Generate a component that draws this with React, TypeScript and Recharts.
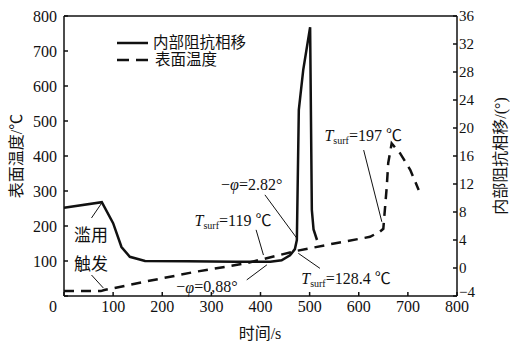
import React from 'react';
import {
  LineChart,
  Line,
  XAxis,
  YAxis,
  ReferenceLine,
  ReferenceDot
} from 'recharts';

// 内部阻抗相移 (right axis, °)
const phaseTime = [0, 77, 100, 117, 134, 165, 250, 350, 420, 443, 460, 470, 474, 478, 487, 501, 504.5, 508, 515];
const phaseValue = [8.6, 9.4, 6.4, 3.0, 1.6, 1.0, 0.95, 0.9, 0.9, 1.1, 1.8, 2.7, 4.0, 22.6, 28.3, 34.4, 8.3, 5.5, 4.0];

// 表面温度 (left axis, ℃)
const tempTime = [0, 75, 82, 165, 267, 369, 430, 470, 550, 623, 643, 650, 657, 660, 667, 684, 705, 722];
const tempValue = [14, 14, 17, 41, 69, 93, 114, 128, 150, 169, 184, 192, 312, 380, 436, 408, 360, 303];

const xTicks = [0, 100, 200, 300, 400, 500, 600, 700, 800];
const leftTicks = [0, 100, 200, 300, 400, 500, 600, 700, 800];
const rightTicks = [-4, 0, 4, 8, 12, 16, 20, 24, 28, 32, 36];

// leader lines, in (time, ℃) coordinates
const leaders = [
  [[56, 223], [77, 266]],
  [[56, 60], [80, 23]],
  [[372, 46], [413, 89]],
  [[391, 189], [406, 117]],
  [[409, 289], [474, 165]],
  [[477, 122], [521, 79]],
  [[610, 417], [647, 212]]
];

// annotation texts: [time, ℃, kind, text]
const notes: [number, number, string, string][] = [
  [55, 173, 'plain', '滥用'],
  [55, 89, 'plain', '触发'],
  [291, 26, 'phi', '0,88°'],
  [382, 320, 'phi', '2.82°'],
  [344, 217, 'tsurf', '119 ℃'],
  [574, 51, 'tsurf', '128.4 ℃'],
  [609, 460, 'tsurf', '197 ℃']
];

const phaseData = phaseTime.map((t, i) => ({ t, v: phaseValue[i] }));
const tempData = tempTime.map((t, i) => ({ t, v: tempValue[i] }));

const FONT = '"Liberation Serif", "Noto Sans CJK SC", serif';

const XTick = (props: any) => {
  const { x, y, payload } = props;
  const shift = payload.value === 0 ? -11 : 0;
  return (
    <text x={x + shift} y={y} dy="0.71em" textAnchor="middle" fontSize={16} fontFamily={FONT} fill="#111">
      {payload.value}
    </text>
  );
};

const RightTick = (props: any) => {
  const { x, y, payload } = props;
  const v = payload.value;
  const lift = v === -4 ? -4 : 0;
  return (
    <text x={x} y={y + lift} dominantBaseline="central" textAnchor="start" fontSize={15} fontFamily={FONT} fill="#111">
      {v < 0 ? `−${-v}` : v}
    </text>
  );
};

const NoteLabel = (kind: string, text: string) => (props: any) => {
  const vb = props.viewBox || {};
  const cx = vb.x + (vb.width || 0) / 2;
  const cy = vb.y + (vb.height || 0) / 2;
  if (kind === 'plain') {
    return (
      <text x={cx} y={cy} textAnchor="middle" dominantBaseline="central" fontSize={17} fontFamily={FONT} fill="#111">
        {text}
      </text>
    );
  }
  if (kind === 'phi') {
    return (
      <text x={cx} y={cy} textAnchor="middle" dominantBaseline="central" fontSize={16} fontFamily={FONT} fill="#111">
        −<tspan fontStyle="italic">φ</tspan>={text}
      </text>
    );
  }
  return (
    <text x={cx} y={cy} textAnchor="middle" dominantBaseline="central" fontSize={16} fontFamily={FONT} fill="#111">
      <tspan fontStyle="italic">T</tspan>
      <tspan fontSize={10} dy={5}>surf</tspan>
      <tspan dy={-5}>={text}</tspan>
    </text>
  );
};

const Legend2 = () => (
  <div style={{ position: 'absolute', left: 117, top: 34, fontFamily: FONT, fontSize: 15.5, color: '#111', lineHeight: '17px' }}>
    <div style={{ display: 'flex', alignItems: 'center', height: 17 }}>
      <svg width={36} height={6}><line x1={0} y1={3} x2={31} y2={3} stroke="#111" strokeWidth={2.5} /></svg>
      <span style={{ lineHeight: '16px' }}>内部阻抗相移</span>
    </div>
    <div style={{ display: 'flex', alignItems: 'center', height: 17 }}>
      <svg width={38} height={6}><line x1={0} y1={3} x2={31} y2={3} stroke="#111" strokeWidth={2.5} strokeDasharray="12 7" /></svg>
      <span style={{ lineHeight: '16px' }}>表面温度</span>
    </div>
  </div>
);

export default function App() {
  return (
    <div style={{ position: 'absolute', left: 0, top: 0, width: 514, height: 353, background: '#fff' }}>
      <LineChart width={514} height={353} margin={{ top: 16, right: 0, left: 0, bottom: 0 }}>
        <XAxis
          dataKey="t"
          type="number"
          domain={[0, 800]}
          ticks={xTicks}
          height={57}
          stroke="#111"
          strokeWidth={1.5}
          tickSize={-4}
          tickMargin={9}
          tick={<XTick />}
          allowDuplicatedCategory={false}
        />
        <YAxis
          yAxisId="left"
          domain={[0, 800]}
          ticks={leftTicks}
          width={64}
          stroke="#111"
          strokeWidth={1.5}
          tickSize={-4}
          tickMargin={11}
          tick={{ fontSize: 16, fontFamily: FONT, fill: '#111' }}
          tickFormatter={(v: number) => (v === 0 ? '' : String(v))}
          label={(p: any) => {
            const cy = p.viewBox.y + p.viewBox.height / 2;
            return (
              <text x={16} y={cy} transform={`rotate(-90 16 ${cy})`} textAnchor="middle" dominantBaseline="central" fontSize={16} fontFamily={FONT} fill="#111">
                表面温度/℃
              </text>
            );
          }}
        />
        <YAxis
          yAxisId="right"
          orientation="right"
          domain={[-4, 36]}
          ticks={rightTicks}
          width={57}
          stroke="#111"
          strokeWidth={1.5}
          tickSize={-4}
          tickMargin={6}
          tick={<RightTick />}
          label={(p: any) => {
            const cy = p.viewBox.y + p.viewBox.height / 2;
            return (
              <text x={500} y={cy} transform={`rotate(-90 500 ${cy})`} textAnchor="middle" dominantBaseline="central" fontSize={16} fontFamily={FONT} fill="#111">
                内部阻抗相移/(°)
              </text>
            );
          }}
        />
        <ReferenceLine yAxisId="left" y={800} stroke="#111" strokeWidth={1.5} />
        {leaders.map((seg, i) => (
          <ReferenceLine
            key={`ld-${i}`}
            yAxisId="left"
            segment={[{ x: seg[0][0], y: seg[0][1] }, { x: seg[1][0], y: seg[1][1] }]}
            stroke="#111"
            strokeWidth={1}
          />
        ))}
        <Line
          yAxisId="right"
          data={phaseData}
          dataKey="v"
          type="linear"
          stroke="#111"
          strokeWidth={2.5}
          dot={false}
          isAnimationActive={false}
        />
        <Line
          yAxisId="left"
          data={tempData}
          dataKey="v"
          type="linear"
          stroke="#111"
          strokeWidth={2.5}
          strokeDasharray="10 7"
          dot={false}
          isAnimationActive={false}
        />
        {notes.map((n, i) => (
          <ReferenceDot
            key={`nt-${i}`}
            yAxisId="left"
            x={n[0]}
            y={n[1]}
            r={0}
            fill="none"
            stroke="none"
            label={NoteLabel(n[2], n[3])}
          />
        ))}
        <text x={260} y={333} textAnchor="middle" dominantBaseline="central" fontSize={16} fontFamily={FONT} fill="#111">
          时间/s
        </text>
      </LineChart>
      <Legend2 />
    </div>
  );
}
